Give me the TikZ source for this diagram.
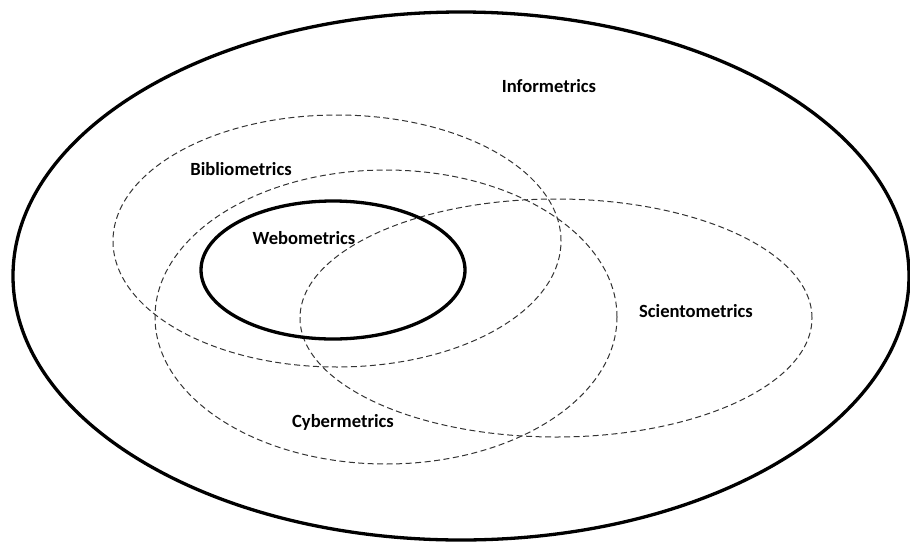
\documentclass[tikz,border=0pt]{standalone}
\usepackage{fontspec}
\setmainfont{Carlito}
\usepackage{tikz}
\tikzset{
  field/.style={font=\bfseries\fontsize{18.6}{22}\selectfont, inner sep=0pt},
  outerset/.style={draw=black, line width=3.3pt},
  subset/.style={draw=black!80, line width=1pt, dash pattern=on 6pt off 3.5pt},
}

\begin{document}
\begin{tikzpicture}[x=1pt,y=-1pt]
  \useasboundingbox (0,0) rectangle (910,544);
  % fields as ellipses
  \draw[outerset] (461,276) ellipse [x radius=448pt, y radius=264pt];
  \draw[subset] (337,241) ellipse [x radius=224pt, y radius=126pt];
  \draw[subset] (386,317) ellipse [x radius=231pt, y radius=147pt];
  \draw[subset] (556,318) ellipse [x radius=256pt, y radius=119pt];
  \draw[outerset] (333,270) ellipse [x radius=132pt, y radius=69pt];

  % labels
  \node[field] (info) at (549,86) {Informetrics};
  \node[field] (biblio) at (241,169) {Bibliometrics};
  \node[field] (webo) at (304,238) {Webometrics};
  \node[field] (sciento) at (696,311) {Scientometrics};
  \node[field] (cyber) at (343,422) {Cybermetrics};
\end{tikzpicture}
\end{document}
